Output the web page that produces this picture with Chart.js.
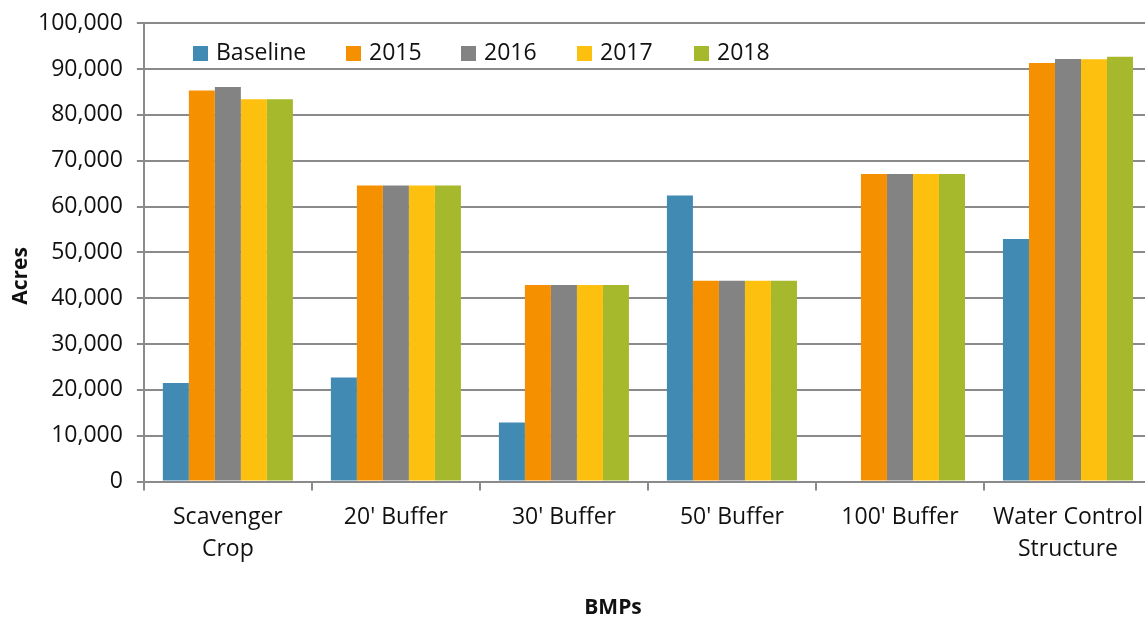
<!DOCTYPE html>
<html>
<head>
<meta charset="utf-8">
<script src="https://cdn.jsdelivr.net/npm/chart.js@4"></script>
<style>
  html, body { margin: 0; padding: 0; background: #fff; overflow: hidden; }
  #wrap { width: 1160px; height: 619px; }
</style>
</head>
<body>
<div id="wrap"><canvas id="bmpChart"></canvas></div>
<script>
const categories = [['Scavenger', 'Crop'], "20' Buffer", "30' Buffer", "50' Buffer", "100' Buffer", ['Water Control', 'Structure']];
const seriesNames = ['Baseline', '2015', '2016', '2017', '2018'];
const baseline = [21500, 22700, 12900, 62400, 0, 52900];
const y2015 = [85300, 64600, 42900, 43800, 67100, 91300];
const y2016 = [86100, 64600, 42900, 43800, 67100, 92200];
const y2017 = [83400, 64600, 42900, 43800, 67100, 92150];
const y2018 = [83400, 64600, 42900, 43800, 67100, 92700];
const yTicks = [0, 10000, 20000, 30000, 40000, 50000, 60000, 70000, 80000, 90000, 100000];

const colors = ['#418AB3', '#F59100', '#838383', '#FDC00E', '#A6B82B'];
const font = "'Open Sans', sans-serif";
const gridGray = '#8a8a8a';

// legend + axis titles drawn Excel style (legend sits inside the plot)
const excelBits = {
  id: 'excelBits',
  afterDraw(chart) {
    const ctx = chart.ctx;
    const xs = [193, 346, 461, 577, 694];
    ctx.save();
    ctx.font = '23px ' + font;
    ctx.textBaseline = 'middle';
    chart.data.datasets.forEach((ds, i) => {
      ctx.fillStyle = ds.backgroundColor;
      ctx.fillRect(xs[i], 46, 15, 15);
      ctx.fillStyle = '#111';
      ctx.fillText(ds.label, xs[i] + 23, 53);
    });
    ctx.font = 'bold 21px ' + font;
    ctx.textAlign = 'center';
    ctx.fillText('BMPs', 613, 608);
    ctx.translate(21, 276);
    ctx.rotate(-Math.PI / 2);
    ctx.fillText('Acres', 0, 0);
    ctx.restore();
  }
};

const seriesData = [baseline, y2015, y2016, y2017, y2018];

new Chart(document.getElementById('bmpChart'), {
  type: 'bar',
  data: {
    labels: categories,
    datasets: seriesNames.map((name, i) => ({
      label: name,
      data: seriesData[i],
      backgroundColor: colors[i],
      borderWidth: 0,
      categoryPercentage: 0.774,
      barPercentage: 1
    }))
  },
  options: {
    responsive: true,
    maintainAspectRatio: false,
    animation: false,
    layout: { padding: { top: 8, right: 8, left: 24, bottom: 42 } },
    plugins: { legend: { display: false }, tooltip: { enabled: false } },
    scales: {
      x: {
        grid: { offset: true, drawOnChartArea: false, color: gridGray, lineWidth: 2, tickLength: 9 },
        border: { color: gridGray, width: 2 },
        ticks: { color: '#111', font: { family: font, size: 23, lineHeight: 1.4 }, maxRotation: 0, autoSkip: false, padding: 11 }
      },
      y: {
        min: 0,
        max: 100000,
        afterBuildTicks: (axis) => { axis.ticks = yTicks.map(v => ({ value: v })); },
        grid: { color: gridGray, lineWidth: 2, tickLength: 7 },
        border: { color: gridGray, width: 2 },
        ticks: { color: '#111', font: { family: font, size: 23, lineHeight: 0.8 }, padding: 14,
          callback: (v) => v.toLocaleString('en-US') }
      }
    }
  },
  plugins: [excelBits]
});
</script>
</body>
</html>
